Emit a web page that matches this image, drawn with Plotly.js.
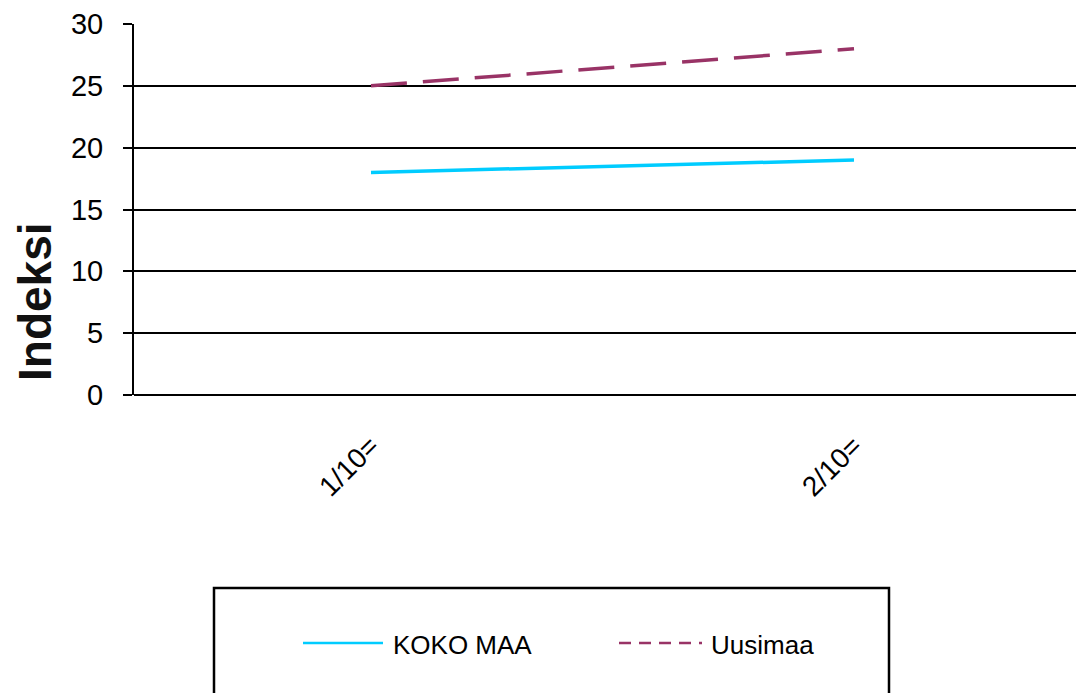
<!DOCTYPE html>
<html>
<head>
<meta charset="utf-8">
<script src="https://cdn.plot.ly/plotly-3.0.1.min.js"></script>
<style>
html, body { margin: 0; padding: 0; background: #ffffff; }
#chart { width: 1076px; height: 693px; }
</style>
</head>
<body>
<div id="chart"></div>
<script>
// ---- data ----
const categories = ['1/10=', '2/10='];
const kokoMaa = [18, 19];
const uusimaa = [25, 28];
const seriesNames = ['KOKO MAA', 'Uusimaa'];
const yTickValues = [0, 5, 10, 15, 20, 25, 30];
const yAxisLabel = 'Indeksi';

// ---- layout helpers (pixel -> paper) ----
const W = 1076, H = 693;
const M = { l: 134, r: 0, t: 24, b: 298 };
const plotW = W - M.l - M.r, plotH = H - M.t - M.b;
const px = p => (p - M.l) / plotW;
const py = p => (H - M.b - p) / plotH;

const FONT = 'Arial, "Liberation Sans", sans-serif';
const colors = ['#00CCFF', '#993366'];

const traces = [
  {
    x: categories, y: kokoMaa, name: seriesNames[0], type: 'scatter', mode: 'lines',
    line: { color: colors[0], width: 3.5 }, showlegend: false
  },
  {
    x: categories, y: uusimaa, name: seriesNames[1], type: 'scatter', mode: 'lines',
    line: { color: colors[1], width: 3.5, dash: '36px,16px' }, showlegend: false
  }
];

const legendShapes = [
  { type: 'rect', xref: 'paper', yref: 'paper', x0: px(214), x1: px(889), y0: py(588), y1: py(720),
    line: { color: '#000000', width: 2.5 }, fillcolor: 'rgba(0,0,0,0)' },
  { type: 'line', xref: 'paper', yref: 'paper', x0: px(303), x1: px(383), y0: py(643), y1: py(643),
    line: { color: colors[0], width: 2.5 } },
  { type: 'line', xref: 'paper', yref: 'paper', x0: px(619), x1: px(702), y0: py(643), y1: py(643),
    line: { color: colors[1], width: 2.5, dash: '12px,8px' } }
];

const annotations = [
  { text: '<b>' + yAxisLabel + '</b>', xref: 'paper', yref: 'paper', x: px(35), y: py(302),
    textangle: -90, showarrow: false, xanchor: 'center', yanchor: 'middle',
    font: { family: FONT, size: 46, color: '#111111' } },
  { text: seriesNames[0], xref: 'paper', yref: 'paper', x: px(391), y: py(645),
    showarrow: false, xanchor: 'left', yanchor: 'middle',
    font: { family: FONT, size: 26, color: '#000000' } },
  { text: seriesNames[1], xref: 'paper', yref: 'paper', x: px(709), y: py(645),
    showarrow: false, xanchor: 'left', yanchor: 'middle',
    font: { family: FONT, size: 26, color: '#000000' } }
];

const layout = {
  width: W, height: H,
  margin: M,
  paper_bgcolor: '#ffffff', plot_bgcolor: '#ffffff',
  showlegend: false,
  font: { family: FONT, color: '#000000' },
  xaxis: {
    type: 'category',
    range: [-(371 - M.l) / 483, (W - M.r - 371) / 483],
    showgrid: false, zeroline: false, showline: false, ticks: '',
    tickangle: -45, ticklabelstandoff: 28,
    tickfont: { family: FONT, size: 28, color: '#000000' }
  },
  yaxis: {
    range: [0, 30], tickvals: yTickValues, ticktext: yTickValues.map(String),
    showgrid: true, gridcolor: '#000000', gridwidth: 2,
    zeroline: true, zerolinecolor: '#000000', zerolinewidth: 2,
    showline: true, linecolor: '#000000', linewidth: 2,
    ticks: 'outside', ticklen: 9, tickwidth: 2, tickcolor: '#000000',
    ticklabelstandoff: 14,
    tickfont: { family: FONT, size: 29, color: '#000000' }
  },
  shapes: legendShapes,
  annotations: annotations
};

Plotly.newPlot('chart', traces, layout, { displayModeBar: false, staticPlot: true });
</script>
</body>
</html>
